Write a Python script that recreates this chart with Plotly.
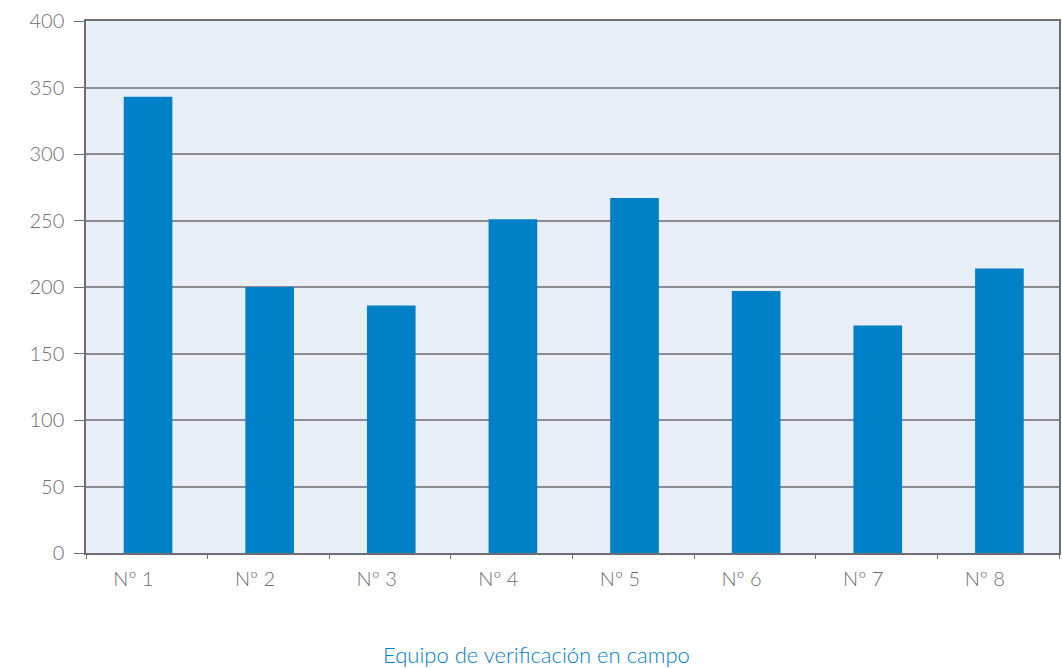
import plotly.graph_objects as go

# Datos: número de verificaciones por equipo
equipos = ["Nº 1", "Nº 2", "Nº 3", "Nº 4", "Nº 5", "Nº 6", "Nº 7", "Nº 8"]
valores = [343, 200, 186, 251, 267, 197, 171, 214]
y_ticks = [0, 50, 100, 150, 200, 250, 300, 350, 400]

AZUL = "#0080c6"
GRIS = "#6d6e71"
FUENTE = "Lato, Open Sans, sans-serif"

pos = list(range(1, len(equipos) + 1))
# Las etiquetas de categoría van algo desplazadas a la izquierda del centro de la barra
pos_etiquetas = [p - 0.11 for p in pos]
limites = [p - 0.5 for p in pos] + [pos[-1] + 0.5]

fig = go.Figure(
    go.Bar(
        x=pos,
        y=valores,
        customdata=equipos,
        marker=dict(color=AZUL, line=dict(width=0)),
        width=0.4,
        offset=-0.19,
        hovertemplate="%{customdata}: %{y}<extra></extra>",
    )
)

# Eje auxiliar solo para las marcas entre categorías
fig.add_trace(
    go.Scatter(x=[limites[0], limites[-1]], y=[0, 0], xaxis="x2",
               mode="lines", line=dict(width=0), hoverinfo="skip",
               showlegend=False)
)

rango_x = [limites[0], limites[-1]]

fig.update_layout(
    width=1062,
    height=668,
    margin=dict(l=86, r=1, t=21, b=115),
    paper_bgcolor="white",
    plot_bgcolor="#e9eff8",
    showlegend=False,
    font=dict(family=FUENTE, color=GRIS, size=20, weight=300),
    xaxis=dict(
        range=rango_x,
        tickvals=pos_etiquetas,
        ticktext=equipos,
        showline=True,
        linecolor=GRIS,
        linewidth=2,
        mirror=True,
        ticks="",
        ticklabelstandoff=7,
        tickfont=dict(family=FUENTE, size=20, color=GRIS, weight=300),
        showgrid=False,
        zeroline=False,
    ),
    xaxis2=dict(
        range=rango_x,
        overlaying="x",
        side="bottom",
        tickvals=limites,
        ticks="outside",
        ticklen=5,
        tickcolor=GRIS,
        tickwidth=1,
        showticklabels=False,
        showgrid=False,
        zeroline=False,
        showline=False,
    ),
    yaxis=dict(
        range=[0, 400],
        tickvals=y_ticks,
        showline=True,
        linecolor=GRIS,
        linewidth=1.5,
        mirror=True,
        ticks="outside",
        ticklen=10,
        tickcolor=GRIS,
        ticklabelstandoff=6,
        tickfont=dict(family=FUENTE, size=20, color=GRIS, weight=300),
        showgrid=True,
        gridcolor="#8a8c8f",
        gridwidth=1.5,
        zeroline=False,
    ),
    annotations=[
        dict(
            text="Equipo de verificación en campo",
            xref="paper",
            yref="paper",
            x=(537 - 86) / (1062 - 87),
            y=-0.19,
            xanchor="center",
            yanchor="middle",
            showarrow=False,
            font=dict(family=FUENTE, size=22, color=AZUL, weight=300),
        )
    ],
)

fig.write_html("out.html")
